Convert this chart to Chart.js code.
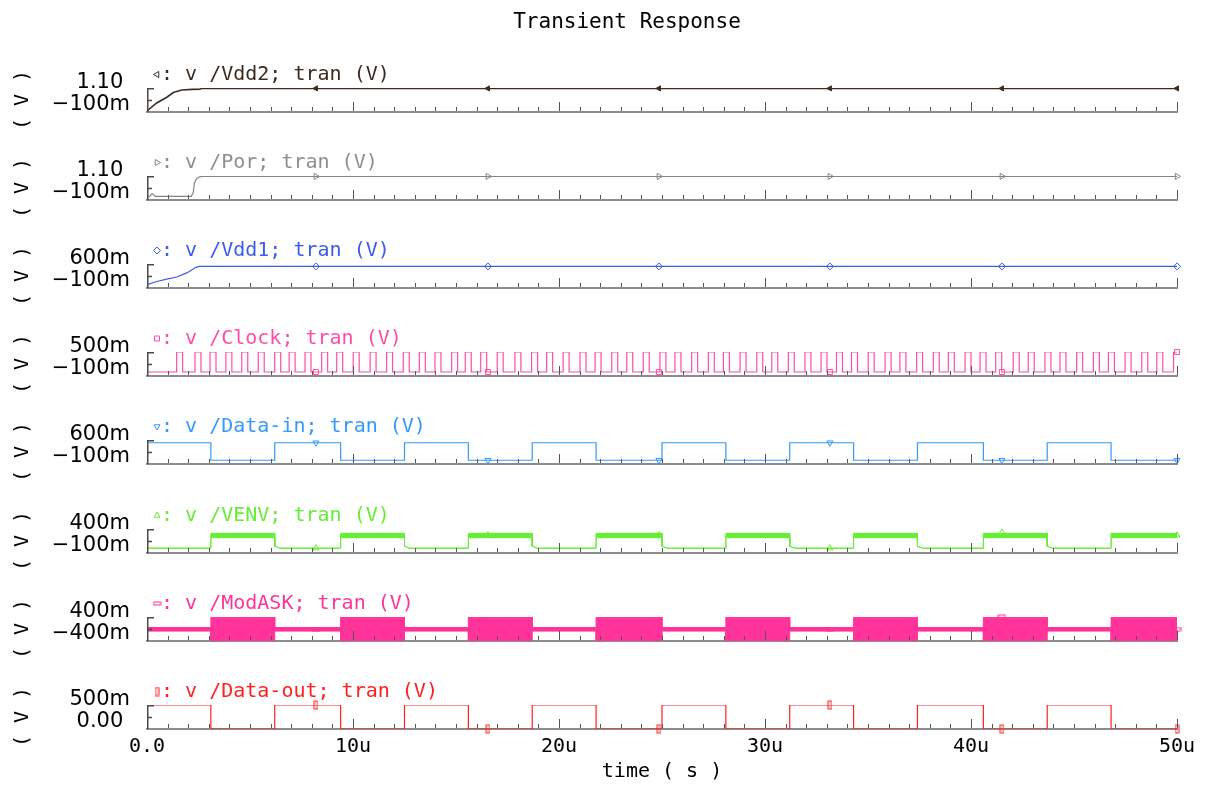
<!DOCTYPE html>
<html><head><meta charset="utf-8">
<script src="https://cdn.jsdelivr.net/npm/chart.js@4.4.1/dist/chart.umd.min.js"></script>
<style>
html,body{margin:0;padding:0;background:#fff;width:1209px;height:785px;overflow:hidden}
#wrap{position:relative;width:1209px;height:785px;background:#fff}
canvas{position:absolute;left:0}
</style></head><body><div id="wrap"></div>
<script>
// ---------------- data (time in µs, voltage in V) ----------------
const T_END = 50;
const timeTicks = [0, 10, 20, 30, 40, 50];
const timeTickLabels = ['0.0', '10u', '20u', '30u', '40u', '50u'];
const markerTimes = [8.2, 16.55, 24.85, 33.15, 41.5, 50];

const vdd2Time = [0, 0.47, 0.96, 1.28, 1.68, 2.2, 2.57, 2.65, 50];
const vdd2Volt = [-0.05, 0.35, 0.64, 0.87, 1.0, 1.03, 1.04, 1.08, 1.08];
const vdd2Marks = [1.08, 1.08, 1.08, 1.08, 1.08, 1.08];

const porTime = [0, 0.12, 0.25, 0.4, 2.15, 2.25, 2.3, 2.4, 2.55, 2.7, 50];
const porVolt = [0.06, 0.08, 0.22, 0.08, 0.08, 0.3, 0.75, 0.95, 1.06, 1.08, 1.08];
const porMarks = [1.08, 1.08, 1.08, 1.08, 1.08, 1.08];

const vdd1Time = [0, 0.47, 0.96, 1.45, 1.93, 2.4, 2.55, 50];
const vdd1Volt = [0.0, 0.09, 0.16, 0.22, 0.34, 0.51, 0.53, 0.53];
const vdd1Marks = [0.53, 0.53, 0.53, 0.53, 0.53, 0.53];

const clockRise = [1.44, 2.33, 3.06, 3.83, 4.60, 5.40, 6.20, 6.90, 7.67, 8.48,
  9.21, 10.01, 10.83, 11.63, 12.44, 13.22, 13.98, 14.79, 15.45, 16.20,
  17.00, 17.86, 18.67, 19.40, 20.20, 21.02, 21.75, 22.56, 23.29, 24.09,
  24.90, 25.63, 26.44, 27.25, 27.98, 28.79, 29.60, 30.33, 31.13, 31.94,
  32.72, 33.47, 34.20, 35.01, 35.83, 36.55, 37.36, 38.17, 38.90, 39.71,
  40.44, 41.20, 42.05, 42.78, 43.59, 44.32, 45.13, 45.94, 46.67, 47.48,
  48.29, 49.02, 49.83];
const clockHighWidth = 0.29;
const clockLevels = [0.0, 0.5];
const clockMarks = [0, 0, 0, 0, 0, 0.5];

const bitEdges = [3.1, 6.2, 9.4, 12.5, 15.6, 18.7, 21.8, 25.0, 28.1, 31.2, 34.3, 37.4, 40.6, 43.7, 46.8];
const dataInBits = [1, 0, 1, 0, 1, 0, 1, 0, 1, 0, 1, 0, 1, 0, 1, 0];
const dataInLevels = [0.01, 0.52];
const dataInMarks = [0.52, 0.01, 0.01, 0.52, 0.01, 0.01];

const venvActiveBand = [0.22, 0.31];
const venvIdleBand = [0.0, 0.0];
const venvFallTail = [0.04, 0.25];   // level right after the fall, settling time
const venvMarks = [0.0, 0.27, 0.27, 0.0, 0.33, 0.27];

const modActiveBand = [-0.39, 0.39];
const modIdleBand = [-0.07, 0.05];
const modMarks = [0.0, 0.2, -0.2, 0.0, 0.41, 0.0];

const dataOutLevels = [0.0, 0.5];
const dataOutMarks = [0.5, 0, 0, 0.5, 0, 0];

// ---------------- builders ----------------
const zip = (xs, ys) => xs.map((x, i) => ({x, y: ys[i]}));
const bitStart = k => k === 0 ? 0 : bitEdges[k - 1];
const bitEnd = k => k === dataInBits.length - 1 ? T_END : bitEdges[k];

function squareWave(bits, levels) {
  const pts = [];
  bits.forEach((b, k) => { pts.push({x: bitStart(k), y: levels[b]}, {x: bitEnd(k), y: levels[b]}); });
  return pts;
}
function envelope(bits, active, idle, tail) {
  const up = [], lo = [];
  bits.forEach((b, k) => {
    const s = bitStart(k), e = bitEnd(k);
    if (b === 0) {
      up.push({x: s, y: active[1]}, {x: e, y: active[1]});
      lo.push({x: s, y: active[0]}, {x: e, y: active[0]});
    } else {
      if (tail && k > 0) {
        up.push({x: s, y: tail[0]}, {x: s + tail[1], y: idle[1]});
        lo.push({x: s, y: tail[0]}, {x: s + tail[1], y: idle[0]});
      } else {
        up.push({x: s, y: idle[1]});
        lo.push({x: s, y: idle[0]});
      }
      up.push({x: e, y: idle[1]});
      lo.push({x: e, y: idle[0]});
    }
  });
  return [up, lo];
}
function clockWave() {
  const pts = [{x: 0, y: clockLevels[0]}];
  clockRise.forEach(r => {
    const f = r + clockHighWidth;
    pts.push({x: r, y: clockLevels[0]}, {x: r, y: clockLevels[1]});
    if (f < T_END) pts.push({x: f, y: clockLevels[1]}, {x: f, y: clockLevels[0]});
    else pts.push({x: T_END, y: clockLevels[1]});
  });
  return pts;
}
function rectMarker(w, h, color) {
  const c = document.createElement('canvas');
  c.width = w + 2; c.height = h + 2;
  const g = c.getContext('2d');
  g.strokeStyle = color; g.lineWidth = 1;
  g.strokeRect(1, 1, w, h);
  return c;
}

// ---------------- styling ----------------
const MONO = '"DejaVu Sans Mono", monospace';
const MONO_CSS = '20px ' + MONO;
const LABEL_CSS = '21px "DejaVu Sans", sans-serif';
const C = {
  vdd2: '#3d2b1f', por: '#858585', vdd1: '#3c5cf0', clock: '#ff4da6',
  din: '#3399ff', venv: '#66ee33', mod: '#ff3399', dout: '#ff2020'
};

function line(data, color, width) {
  return {data, borderColor: color, borderWidth: width || 1, pointRadius: 0, tension: 0, fill: false, order: 1};
}
function marks(values, color, style, rot, fill, r) {
  return {data: zip(markerTimes, values), showLine: false, pointStyle: style, pointRotation: rot || 0,
    pointRadius: r || 3.5, pointBorderWidth: 1, pointBorderColor: color,
    pointBackgroundColor: fill || 'rgba(255,255,255,0)', clip: false, order: 0};
}

const venvEnv = envelope(dataInBits, venvActiveBand, venvIdleBand, venvFallTail);
const modEnv = envelope(dataInBits, modActiveBand, modIdleBand, null);
const modMark = rectMarker(7, 3, C.mod);
const doutMark = rectMarker(3, 8, C.dout);

const strips = [
  {min: -0.1, max: 1.1, top: '1.10 ', bottom: '\u2212100m', color: C.vdd2, text: C.vdd2,
   legend: ': v /Vdd2; tran (V)', mk: 'triangle', rot: -90, title: 'Transient Response',
   datasets: [marks(vdd2Marks, C.vdd2, 'triangle', -90, C.vdd2, 3), line(zip(vdd2Time, vdd2Volt), C.vdd2, 1.6)]},
  {min: -0.1, max: 1.1, top: '1.10 ', bottom: '\u2212100m', color: C.por, text: '#8e8e8e',
   legend: ': v /Por; tran (V)', mk: 'triangle', rot: 90,
   datasets: [marks(porMarks, C.por, 'triangle', 90), line(zip(porTime, porVolt), C.por, 1.2)]},
  {min: -0.1, max: 0.6, top: '600m', bottom: '\u2212100m', color: C.vdd1, text: C.vdd1,
   legend: ': v /Vdd1; tran (V)', mk: 'rectRot', rot: 0,
   datasets: [marks(vdd1Marks, C.vdd1, 'rectRot'), line(zip(vdd1Time, vdd1Volt), C.vdd1, 1.2)]},
  {min: -0.1, max: 0.5, top: '500m', bottom: '\u2212100m', color: C.clock, text: C.clock,
   legend: ': v /Clock; tran (V)', mk: 'rect', rot: 0,
   datasets: [marks(clockMarks, C.clock, 'rect'), line(clockWave(), C.clock, 1.2)]},
  {min: -0.1, max: 0.6, top: '600m', bottom: '\u2212100m', color: C.din, text: C.din,
   legend: ': v /Data-in; tran (V)', mk: 'triangle', rot: 180,
   datasets: [marks(dataInMarks, C.din, 'triangle', 180), line(squareWave(dataInBits, dataInLevels), C.din, 1.2)]},
  {min: -0.1, max: 0.4, top: '400m', bottom: '\u2212100m', color: C.venv, text: C.venv,
   legend: ': v /VENV; tran (V)', mk: 'triangle', rot: 0,
   datasets: [marks(venvMarks, C.venv, 'triangle'),
     Object.assign(line(venvEnv[0], C.venv, 1), {fill: '+1', backgroundColor: C.venv}),
     line(venvEnv[1], C.venv, 1)]},
  {min: -0.4, max: 0.4, top: '400m', bottom: '\u2212400m', color: C.mod, text: C.mod,
   legend: ': v /ModASK; tran (V)', mk: modMark, rot: 0,
   datasets: [marks(modMarks, C.mod, modMark),
     Object.assign(line(modEnv[0], C.mod, 1), {fill: '+1', backgroundColor: C.mod}),
     line(modEnv[1], C.mod, 1)]},
  {min: 0, max: 0.5, top: '500m', bottom: '0.00 ', color: C.dout, text: C.dout,
   legend: ': v /Data-out; tran (V)', mk: doutMark, rot: 0,
   datasets: [marks(dataOutMarks, C.dout, doutMark), line(squareWave(dataInBits, dataOutLevels), C.dout, 1.2)]}
];

// ---------------- decoration plugin ----------------
const stripPlugin = {
  id: 'strip',
  afterDraw(chart, args, o) {
    const {ctx, chartArea: a} = chart;
    const x = chart.scales.x;
    ctx.save();
    // left bracket
    ctx.strokeStyle = '#4a4a4a'; ctx.lineWidth = 1.5;
    ctx.beginPath();
    ctx.moveTo(a.left + 0.75, a.bottom); ctx.lineTo(a.left + 0.75, a.top + 0.75); ctx.lineTo(a.left + 7, a.top + 0.75);
    const mid = Math.round((a.top + a.bottom) / 2) + 0.5;
    ctx.moveTo(a.left, mid); ctx.lineTo(a.left + 5, mid);
    ctx.stroke();
    // inward ticks on time axis
    ctx.lineWidth = 1; ctx.strokeStyle = '#555';
    ctx.beginPath();
    for (let t = 1; t <= T_END; t++) {
      const px = Math.round(x.getPixelForValue(t)) + 0.5;
      const len = t % 10 === 0 ? 9 : 4;
      ctx.moveTo(px, a.bottom - 1); ctx.lineTo(px, a.bottom - 1 - len);
    }
    ctx.stroke();
    // y range labels
    ctx.font = LABEL_CSS; ctx.fillStyle = '#000';
    ctx.textAlign = 'right'; ctx.textBaseline = 'middle';
    ctx.fillText(o.top, 130, a.top - 5);
    ctx.fillText(o.bottom, 130, a.bottom - 7);
    // rotated unit title
    ctx.save();
    ctx.font = MONO_CSS; ctx.textAlign = 'center'; ctx.textBaseline = 'middle';
    ctx.translate(23, (a.top + a.bottom) / 2);
    ctx.rotate(-Math.PI / 2);
    ctx.fillText('( V )', 0, 0);
    ctx.restore();
    // legend marker + text
    ctx.strokeStyle = o.color; ctx.fillStyle = 'rgba(255,255,255,0)';
    Chart.helpers.drawPoint(ctx, {pointStyle: o.mk, radius: 3.5, rotation: o.rot, borderWidth: 1}, 157, a.top - 13.5);
    ctx.font = MONO_CSS;
    ctx.fillStyle = o.text; ctx.textAlign = 'left'; ctx.textBaseline = 'alphabetic';
    ctx.fillText(o.legend, 161, a.top - 8.5);
    if (o.title) {
      ctx.font = '21px ' + MONO;
      ctx.fillStyle = '#000'; ctx.textAlign = 'center';
      ctx.fillText(o.title, 627, 28);
    }
    ctx.restore();
  }
};

// ---------------- charts ----------------
const wrap = document.getElementById('wrap');
strips.forEach((s, i) => {
  const isLast = i === strips.length - 1;
  const top = Math.round(88.1 * i);
  const h = isLast ? 785 - top : 150;
  const cv = document.createElement('canvas');
  cv.width = 1209; cv.height = h; cv.style.top = top + 'px';
  wrap.appendChild(cv);
  new Chart(cv, {
    type: 'line',
    data: {datasets: s.datasets},
    options: {
      responsive: false, animation: false, events: [],
      layout: {padding: {top: 88, left: 0, right: 32, bottom: 0}},
      plugins: {
        legend: {display: false}, tooltip: {enabled: false}, title: {display: false},
        strip: {top: s.top, bottom: s.bottom, color: s.color, text: s.text, legend: s.legend, mk: s.mk, rot: s.rot, title: s.title}
      },
      scales: {
        x: {
          type: 'linear', min: 0, max: T_END,
          grid: {display: false, drawTicks: false},
          border: {display: true, color: '#8c8c8c', width: 2},
          ticks: {display: isLast, stepSize: 10, padding: 6, autoSkip: false, maxRotation: 0,
            font: {family: MONO, size: 20}, color: '#000',
            callback: v => { const k = timeTicks.indexOf(v); return k >= 0 ? timeTickLabels[k] : ''; }},
          title: {display: isLast, text: 'time ( s )', font: {family: MONO, size: 20}, color: '#000', padding: {top: 0, bottom: 1}},
          afterFit: sc => { sc.height = h - 112; }
        },
        y: {
          min: s.min, max: s.max,
          grid: {display: false, drawTicks: false},
          border: {display: false},
          ticks: {display: false},
          title: {display: false},
          afterFit: sc => { sc.width = 147; }
        }
      }
    },
    plugins: [stripPlugin]
  });
});
</script>
</body></html>
